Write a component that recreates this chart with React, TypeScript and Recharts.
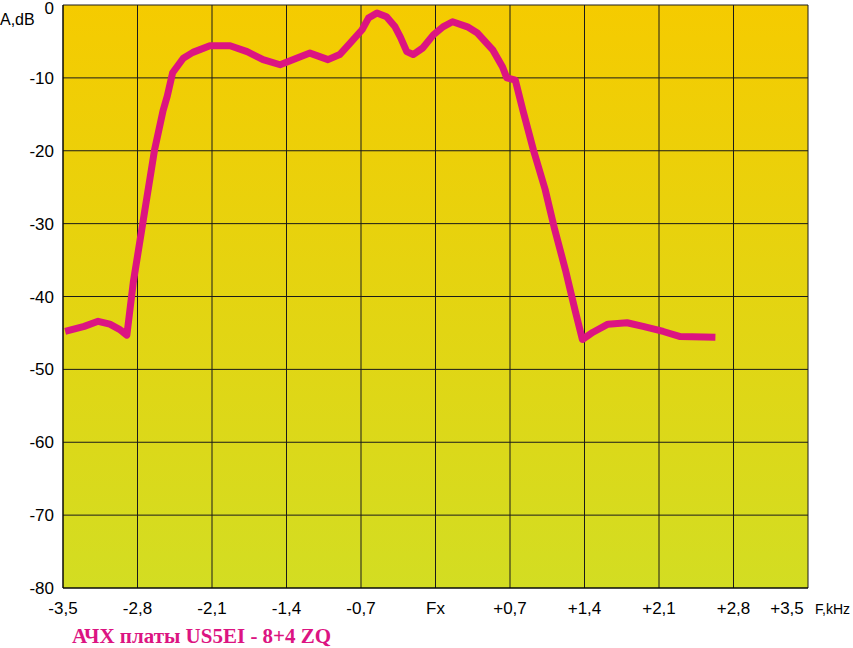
import { LineChart, Line, XAxis, YAxis, CartesianGrid } from "recharts";

// frequency offset, kHz (relative to Fx)
const freq = [
  -3.48, -3.3, -3.17, -3.06, -2.97, -2.9, -2.84, -2.75, -2.64, -2.56, -2.52, -2.47, -2.37, -2.28,
  -2.12, -1.93, -1.77, -1.62, -1.46, -1.27, -1.18, -1.01, -0.9, -0.8, -0.69, -0.63, -0.55, -0.46,
  -0.38, -0.33, -0.27, -0.21, -0.12, -0.02, 0.07, 0.16, 0.3, 0.39, 0.54, 0.63, 0.67, 0.75, 0.82,
  0.92, 1.03, 1.12, 1.22, 1.31, 1.38, 1.48, 1.62, 1.8, 1.95, 2.14, 2.3, 2.63,
];

// attenuation, dB
const level = [
  -44.8, -44.1, -43.4, -43.8, -44.5, -45.3, -38.1, -29.9, -19.9, -14.5, -12.5, -9.3, -7.3, -6.5,
  -5.6, -5.6, -6.4, -7.5, -8.2, -7.1, -6.6, -7.5, -6.8, -5.2, -3.4, -1.8, -1.1, -1.6,
  -3.0, -4.4, -6.4, -6.8, -5.9, -4.1, -3.0, -2.3, -3.0, -3.8, -6.2, -8.5, -10.0, -10.3, -14.4,
  -19.9, -25.3, -30.8, -36.3, -41.8, -45.9, -44.9, -43.8, -43.6, -44.1, -44.8, -45.5, -45.6,
];

const xTicks = [-3.5, -2.8, -2.1, -1.4, -0.7, 0, 0.7, 1.4, 2.1, 2.8, 3.5];
const xTickLabels = ["-3,5", "-2,8", "-2,1", "-1,4", "-0,7", "Fx", "+0,7", "+1,4", "+2,1", "+2,8", "+3,5"];
const yTicks = [0, -10, -20, -30, -40, -50, -60, -70, -80];

const data = freq.map((f, i) => ({ f, a: level[i] }));

const FONT = "'Liberation Sans', Arial, sans-serif";
const PINK = "#DC1482";

function FreqTick({ x, y, payload }: { x?: number; y?: number; payload?: { value: number } }) {
  const idx = xTicks.indexOf(payload?.value ?? NaN);
  const label = xTickLabels[idx] ?? "";
  // last label sits left of the border, followed by the unit
  if (idx === xTicks.length - 1) {
    return (
      <g>
        <text x={(x ?? 0) - 21} y={(y ?? 0) + 18} textAnchor="middle" fontSize={17} fontFamily={FONT} fill="#000">
          {label}
        </text>
        <text x={(x ?? 0) + 7} y={(y ?? 0) + 18} textAnchor="start" fontSize={14} fontFamily={FONT} fill="#000">
          F,kHz
        </text>
      </g>
    );
  }
  return (
    <text x={x} y={(y ?? 0) + 18} textAnchor="middle" fontSize={17} fontFamily={FONT} fill="#000">
      {label}
    </text>
  );
}

function LevelTick({ x, y, payload }: { x?: number; y?: number; payload?: { value: number } }) {
  const v = payload?.value ?? 0;
  // top label nudged down so it stays inside the page
  const yy = (y ?? 0) + (v === 0 ? 9 : 6);
  return (
    <text x={(x ?? 0) - 1} y={yy} textAnchor="end" fontSize={17} fontFamily={FONT} fill="#000">
      {v}
    </text>
  );
}

export default function App() {
  return (
    <div style={{ position: "absolute", left: 0, top: 0, width: 853, height: 648, background: "#fff" }}>
      <LineChart width={853} height={648} data={data} margin={{ top: 5, right: 45, left: 0, bottom: 30 }}>
        <defs>
          <linearGradient id="bg" x1="0" y1="0" x2="0" y2="1">
            <stop offset="0%" stopColor="#F5CB00" />
            <stop offset="100%" stopColor="#D3DD22" />
          </linearGradient>
        </defs>
        <CartesianGrid stroke="#1a1a1a" strokeWidth={1} fill="url(#bg)" fillOpacity={1} />
        <XAxis
          dataKey="f"
          type="number"
          domain={[-3.5, 3.5]}
          ticks={xTicks}
          height={30}
          axisLine={{ stroke: "#000" }}
          tickLine={false}
          tick={<FreqTick />}
          interval={0}
        />
        <YAxis
          type="number"
          domain={[-80, 0]}
          ticks={yTicks}
          width={63}
          axisLine={{ stroke: "#000" }}
          tickLine={false}
          interval={0}
          tick={<LevelTick />}
        />
        <Line
          dataKey="a"
          type="linear"
          stroke={PINK}
          strokeWidth={7}
          strokeLinejoin="round"
          dot={false}
          activeDot={false}
          isAnimationActive={false}
        />
      </LineChart>
      <div style={{ position: "absolute", left: 0, top: 11, fontFamily: FONT, fontSize: 16, color: "#000" }}>A,dB</div>
      <div
        style={{
          position: "absolute",
          left: 72,
          top: 624,
          fontFamily: "'Liberation Serif', 'Times New Roman', serif",
          fontWeight: "bold",
          fontSize: 21,
          color: PINK,
          whiteSpace: "nowrap",
        }}
      >
        АЧХ платы US5EI - 8+4 ZQ
      </div>
    </div>
  );
}
